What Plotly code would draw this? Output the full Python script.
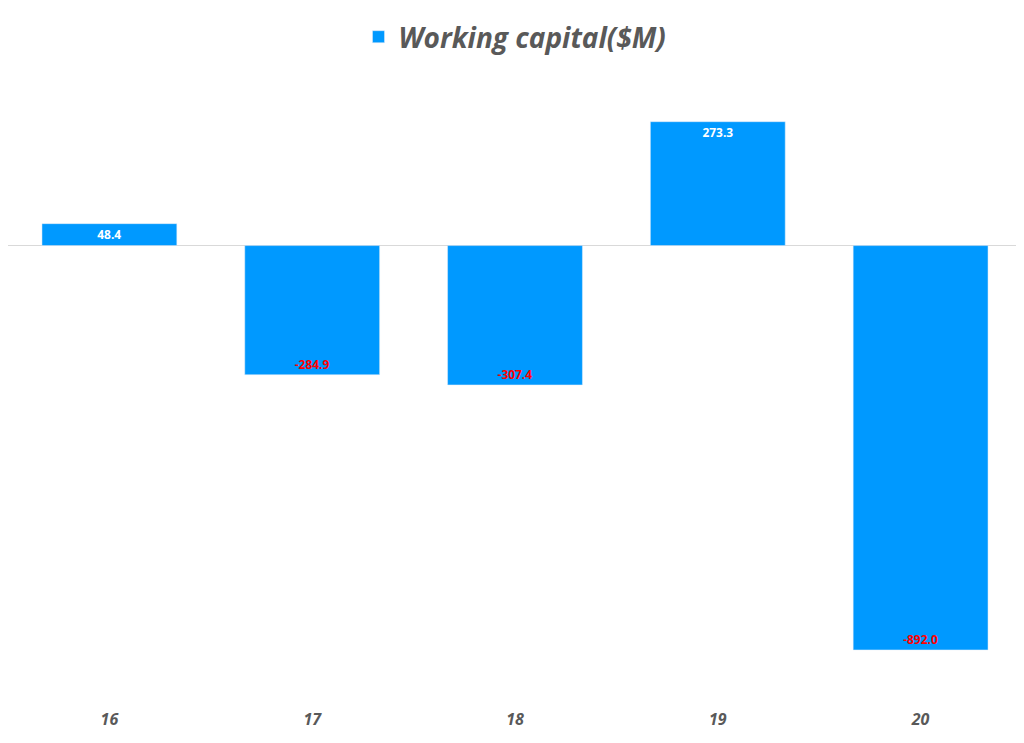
import plotly.graph_objects as go

years = ["16", "17", "18", "19", "20"]
working_capital = [48.4, -284.9, -307.4, 273.3, -892.0]

label_colors = ["white" if v >= 0 else "#ff0000" for v in working_capital]

fig = go.Figure()
fig.add_trace(go.Bar(
    x=years, y=working_capital, name="Working capital($M)",
    marker_color="#0099ff", width=0.665,
    text=[f"{v:.1f}" for v in working_capital],
    textposition="inside", insidetextanchor="end", textangle=0,
    textfont=dict(color=label_colors, size=15, family="Open Sans", weight="bold"),
))

fig.update_layout(
    width=1024, height=743,
    plot_bgcolor="white", paper_bgcolor="white",
    margin=dict(l=0, r=10, t=54, b=53, autoexpand=False),
    showlegend=True,
    legend=dict(orientation="h", x=0.5, xanchor="center", y=1.0, yanchor="bottom",
                font=dict(size=28, color="#595959", family="Open Sans", style="italic", weight="bold")),
    uniformtext=dict(minsize=10, mode="show"),
)
fig.update_xaxes(showline=False, showgrid=False, ticks="", ticklabelstandoff=10,
                 tickfont=dict(size=16, color="#595959", family="Open Sans", style="italic", weight="bold"))
fig.update_yaxes(range=[-998, 405], showticklabels=False, showgrid=False,
                 zeroline=True, zerolinecolor="#d9d9d9", zerolinewidth=1)

fig.write_html("out.html")
